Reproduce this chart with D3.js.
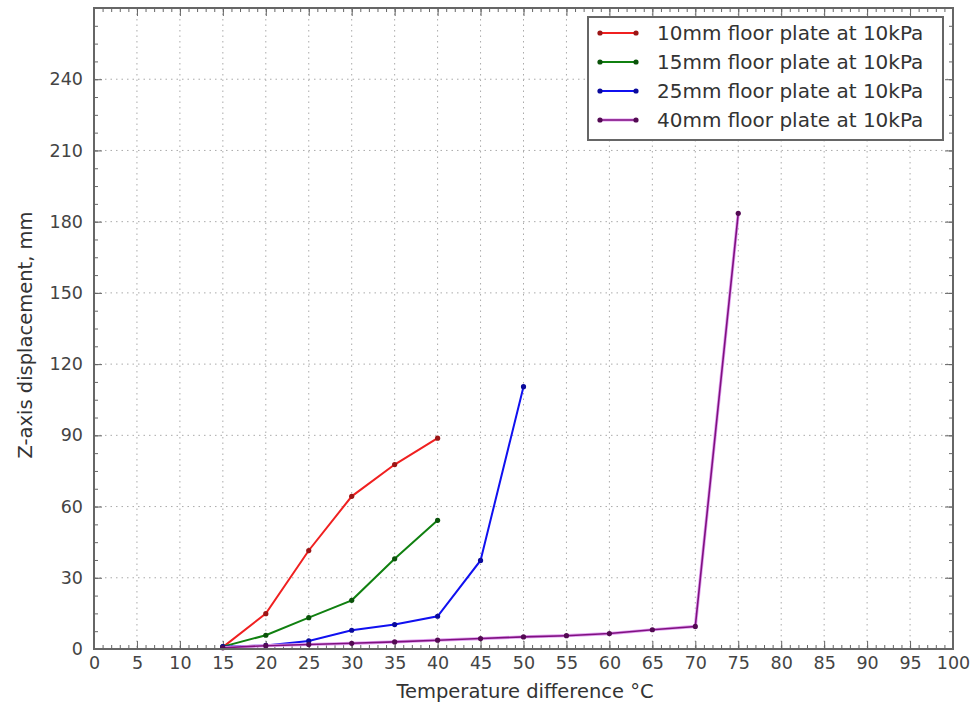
<!DOCTYPE html>
<html>
<head>
<meta charset="utf-8">
<script src="https://cdn.jsdelivr.net/npm/d3@7"></script>
<style>
  body { margin: 0; background: #fff; }
  text { font-family: "DejaVu Sans", sans-serif; }
</style>
</head>
<body>
<div id="chart"></div>
<script>
// data
var temps = [15, 20, 25, 30, 35, 40, 45, 50, 55, 60, 65, 70, 75];
var plate10 = [0.8, 14.9, 41.5, 64.3, 77.7, 88.8];
var plate15 = [1.0, 5.8, 13.2, 20.5, 38.0, 54.2];
var plate25 = [1.0, 1.5, 3.4, 7.9, 10.3, 13.8, 37.3, 110.5];
var plate40 = [0.5, 1.4, 1.9, 2.4, 3.0, 3.7, 4.4, 5.1, 5.6, 6.5, 8.1, 9.5, 183.5];
var seriesNames = ["10mm floor plate at 10kPa", "15mm floor plate at 10kPa",
                   "25mm floor plate at 10kPa", "40mm floor plate at 10kPa"];
var seriesColors = ["#f02020", "#108010", "#1010f0", "#801080"];
var xTicks = d3.range(0, 101, 5);
var yTicks = d3.range(0, 241, 30);

var series = [plate10, plate15, plate25, plate40].map(function(vals, i) {
  return {
    name: seriesNames[i],
    color: seriesColors[i],
    points: vals.map(function(v, j) { return [temps[j], v]; })
  };
});

var W = 975, H = 705;
var margin = {top: 8, right: 22, bottom: 56, left: 94};
var width = W - margin.left - margin.right,
    height = H - margin.top - margin.bottom;

var svg = d3.select("#chart").append("svg")
  .attr("width", W).attr("height", H);
var g = svg.append("g")
  .attr("transform", "translate(" + margin.left + "," + margin.top + ")");

var x = d3.scaleLinear().domain([0, 100]).range([0, width]);
var y = d3.scaleLinear().domain([0, 270]).range([height, 0]);

// grid
g.append("g").selectAll("line").data(xTicks.slice(1, -1)).enter().append("line")
  .attr("x1", function(d) { return x(d); }).attr("x2", function(d) { return x(d); })
  .attr("y1", 0).attr("y2", height)
  .attr("stroke", "#aaa").attr("stroke-width", 1).attr("stroke-dasharray", "1.5,4");
g.append("g").selectAll("line").data(yTicks.slice(1)).enter().append("line")
  .attr("y1", function(d) { return y(d); }).attr("y2", function(d) { return y(d); })
  .attr("x1", 0).attr("x2", width)
  .attr("stroke", "#aaa").attr("stroke-width", 1).attr("stroke-dasharray", "1.5,4");

// inward ticks on all four sides
var xMinor = d3.range(0, 101, 1), yMinor = d3.range(0, 270.1, 7.5);
function tickAxis(axis, scale, major, minor) {
  var ag = g.append("g");
  ag.call(axis(scale).tickValues(minor).tickSize(-4).tickFormat(""));
  ag.append("g").call(axis(scale).tickValues(major).tickSize(-8).tickFormat(""));
  ag.selectAll(".domain").remove();
  ag.selectAll("line").attr("stroke", "#666");
  return ag;
}
tickAxis(d3.axisBottom, x, xTicks, xMinor).attr("transform", "translate(0," + height + ")");
tickAxis(d3.axisTop, x, xTicks, xMinor);
tickAxis(d3.axisLeft, y, yTicks, yMinor);
tickAxis(d3.axisRight, y, yTicks, yMinor).attr("transform", "translate(" + width + ",0)");

// tick labels
g.append("g").attr("transform", "translate(0," + height + ")")
  .call(d3.axisBottom(x).tickValues(xTicks).tickSize(0).tickPadding(8))
  .call(function(a) { a.select(".domain").remove(); })
  .selectAll("text").attr("font-size", 17.5).attr("fill", "#444")
  .style("font-family", "DejaVu Sans");
g.append("g")
  .call(d3.axisLeft(y).tickValues(yTicks).tickSize(0).tickPadding(11))
  .call(function(a) { a.select(".domain").remove(); })
  .selectAll("text").attr("font-size", 17.5).attr("fill", "#444")
  .style("font-family", "DejaVu Sans");

// lines
var line = d3.line().x(function(d) { return x(d[0]); }).y(function(d) { return y(d[1]); });
series.forEach(function(s, i) {
  if (i === 3) {
    g.append("path").datum(s.points).attr("d", line)
      .attr("fill", "none").attr("stroke", "#e0a0f0").attr("stroke-width", 3.2);
  }
  g.append("path").datum(s.points).attr("d", line)
    .attr("fill", "none").attr("stroke", s.color).attr("stroke-width", i === 3 ? 1.6 : 2);
  g.append("g").selectAll("circle").data(s.points).enter().append("circle")
    .attr("cx", function(d) { return x(d[0]); })
    .attr("cy", function(d) { return y(d[1]); })
    .attr("r", 2.6)
    .attr("fill", d3.color(s.color).darker(1.2));
});

// frame
g.append("rect").attr("width", width).attr("height", height)
  .attr("fill", "none").attr("stroke", "#666").attr("stroke-width", 2);

// axis titles
svg.append("text").attr("x", 525).attr("y", 698)
  .attr("text-anchor", "middle").attr("font-size", 19.5).attr("fill", "#333")
  .text("Temperature difference \u00b0C");
svg.append("text")
  .attr("transform", "translate(32,335) rotate(-90)")
  .attr("text-anchor", "middle").attr("font-size", 19.5).attr("fill", "#333")
  .text("Z-axis displacement, mm");

// legend
var leg = svg.append("g").attr("transform", "translate(588,17)");
leg.append("rect").attr("width", 355).attr("height", 123)
  .attr("fill", "#fff").attr("stroke", "#666").attr("stroke-width", 2);
series.forEach(function(s, i) {
  var ly = 16 + i * 29;
  if (i === 3) {
    leg.append("line").attr("x1", 12).attr("x2", 48).attr("y1", ly).attr("y2", ly)
      .attr("stroke", "#e0a0f0").attr("stroke-width", 3.2);
  }
  leg.append("line").attr("x1", 12).attr("x2", 48).attr("y1", ly).attr("y2", ly)
    .attr("stroke", s.color).attr("stroke-width", i === 3 ? 1.6 : 2);
  [12, 48].forEach(function(px) {
    leg.append("circle").attr("cx", px).attr("cy", ly).attr("r", 2.6)
      .attr("fill", d3.color(s.color).darker(1.2));
  });
  leg.append("text").attr("x", 69).attr("y", ly).attr("dy", "0.35em")
    .attr("font-size", 20).attr("fill", "#333").text(s.name);
});
</script>
</body>
</html>
